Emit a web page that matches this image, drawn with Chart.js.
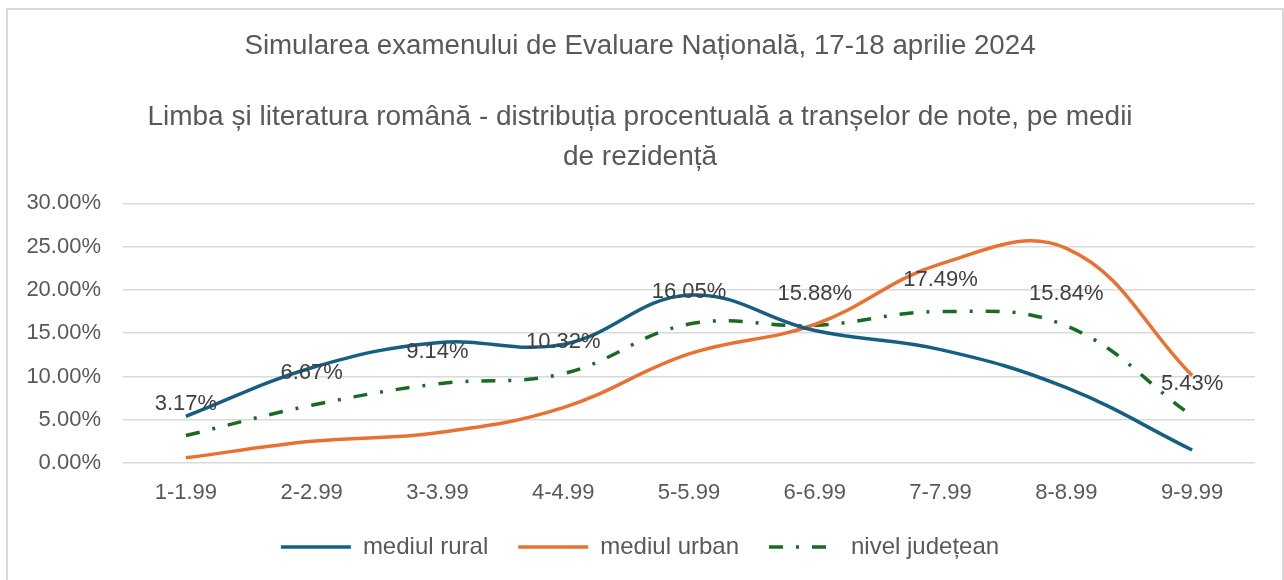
<!DOCTYPE html>
<html>
<head>
<meta charset="utf-8">
<script src="https://cdn.jsdelivr.net/npm/chart.js@4"></script>
<style>
    body {
        margin: 0;
        background: #ffffff;
        overflow: hidden;
    }
    .chart-frame {
        position: absolute;
        left: 6px;
        top: 8px;
        width: 1274px;
        height: 640px;
        border: 2px solid #d9d9d9;
    }
    #gradesChart {
        position: absolute;
        left: 0;
        top: 0;
    }
</style>
</head>
<body>
<div class="chart-frame"></div>
<canvas id="gradesChart" width="1284" height="580"></canvas>
<script>
// transe de note
const categories = ['1-1.99', '2-2.99', '3-3.99', '4-4.99', '5-5.99', '6-6.99', '7-7.99', '8-8.99', '9-9.99'];

// procente pe medii de rezidenta
const ruralValues = [5.4, 11.0, 13.9, 13.7, 19.4, 15.3, 13.1, 8.7, 1.5];
const urbanValues = [0.6, 2.5, 3.5, 6.4, 12.6, 16.0, 23.0, 24.8, 10.1];
const countyValues = [3.17, 6.67, 9.14, 10.32, 16.05, 15.88, 17.49, 15.84, 5.43];

const yTicks = [0, 5, 10, 15, 20, 25, 30];

const titleText = 'Simularea examenului de Evaluare Națională, 17-18 aprilie 2024';
const subtitleLines = ['Limba și literatura română - distribuția procentuală a tranșelor de note, pe medii', 'de rezidență'];

const fontFamily = '"Liberation Sans", Arial, sans-serif';

// etichete de date doar pe seria judeteana
const countyLabels = {
    id: 'countyLabels',
    afterDatasetsDraw(chart) {
        const meta = chart.getDatasetMeta(2);
        const ctx = chart.ctx;
        ctx.save();
        ctx.font = '22px ' + fontFamily;
        ctx.fillStyle = '#404040';
        ctx.textAlign = 'center';
        ctx.textBaseline = 'middle';
        meta.data.forEach((point, i) => {
            ctx.fillText(countyValues[i].toFixed(2) + '%', point.x, point.y - 32);
        });
        ctx.restore();
    }
};

const ctx = document.getElementById('gradesChart').getContext('2d');
new Chart(ctx, {
    type: 'line',
    data: {
        labels: categories,
        datasets: [{
            label: 'mediul rural',
            data: ruralValues,
            borderColor: '#156082',
            backgroundColor: '#156082',
            borderWidth: 3.5
        }, {
            label: 'mediul urban',
            data: urbanValues,
            borderColor: '#E97132',
            backgroundColor: '#E97132',
            borderWidth: 3.5
        }, {
            label: 'nivel județean',
            data: countyValues,
            borderColor: '#196B24',
            backgroundColor: '#196B24',
            borderWidth: 3.5,
            borderDash: [14, 13, 3, 13]
        }]
    },
    options: {
        responsive: false,
        animation: false,
        layout: {
            padding: { left: 25, right: 29, top: 0, bottom: 11 }
        },
        elements: {
            line: { tension: 0.4, borderJoinStyle: 'round', fill: false },
            point: { radius: 0, hoverRadius: 0 }
        },
        plugins: {
            title: {
                display: true,
                text: titleText,
                color: '#595959',
                font: { family: fontFamily, size: 27.7, weight: 'normal', lineHeight: 1.2 },
                padding: { top: 30, bottom: 34 }
            },
            subtitle: {
                display: true,
                text: subtitleLines,
                color: '#595959',
                font: { family: fontFamily, size: 28, weight: 'normal', lineHeight: 1.43 },
                padding: { top: 0, bottom: 26 }
            },
            legend: {
                position: 'bottom',
                labels: {
                    usePointStyle: true,
                    pointStyle: 'line',
                    pointStyleWidth: 70,
                    color: '#595959',
                    padding: 30,
                    font: { family: fontFamily, size: 24 },
                    generateLabels: chart => Chart.defaults.plugins.legend.labels.generateLabels(chart).map(item => {
                        const ds = chart.data.datasets[item.datasetIndex];
                        return Object.assign(item, {
                            lineDash: ds.borderDash || [],
                            lineWidth: 3.5,
                            strokeStyle: ds.borderColor,
                            pointStyle: 'line'
                        });
                    })
                }
            },
            tooltip: { enabled: false }
        },
        scales: {
            x: {
                offset: true,
                grid: { display: false, offset: true },
                border: { display: false },
                afterFit: axis => { axis.height = 42; },
                ticks: {
                    color: '#595959',
                    padding: 9,
                    font: { family: fontFamily, size: 22 }
                }
            },
            y: {
                min: yTicks[0],
                max: yTicks[yTicks.length - 1],
                afterBuildTicks: axis => {
                    axis.ticks = yTicks.map(v => ({ value: v }));
                },
                afterFit: axis => { axis.width = 98; },
                grid: { color: '#d9d9d9', lineWidth: 1.5, drawTicks: false },
                border: { display: false },
                ticks: {
                    color: '#595959',
                    padding: 22,
                    font: { family: fontFamily, size: 22 },
                    callback: v => v.toFixed(2) + '%'
                }
            }
        }
    },
    plugins: [countyLabels]
});
</script>
</body>
</html>
